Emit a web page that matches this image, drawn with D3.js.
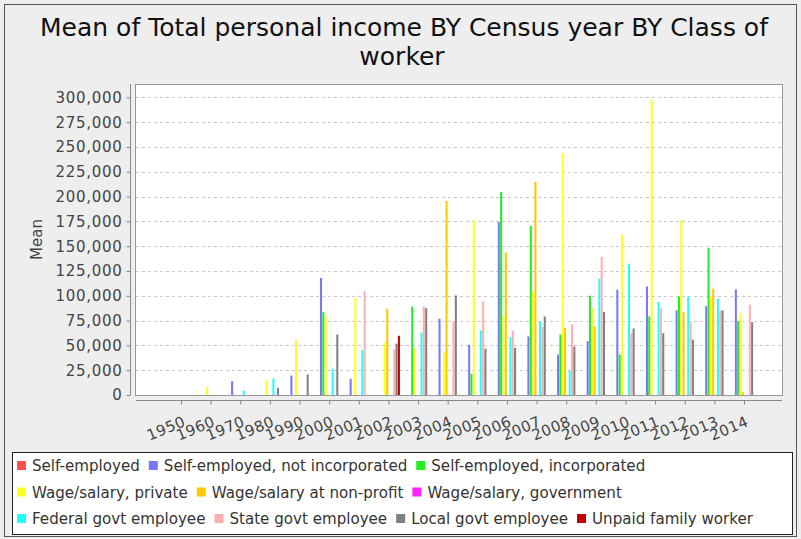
<!DOCTYPE html>
<html>
<head>
<meta charset="utf-8">
<script src="https://cdn.jsdelivr.net/npm/d3@7"></script>
<style>
  body { margin: 0; background: #eeeeee; }
  svg { display: block; font-family: "DejaVu Sans", sans-serif; }
</style>
</head>
<body>
<script>
// categories
var years = ["1950", "1960", "1970", "1980", "1990", "2000", "2001", "2002", "2003", "2004",
             "2005", "2006", "2007", "2008", "2009", "2010", "2011", "2012", "2013", "2014"];

var seriesNames = ["Self-employed", "Self-employed, not incorporated", "Self-employed, incorporated",
                   "Wage/salary, private", "Wage/salary at non-profit", "Wage/salary, government",
                   "Federal govt employee", "State govt employee", "Local govt employee", "Unpaid family worker"];

var seriesColors = ["#ff5050", "#7878ff", "#22ee22", "#ffff22", "#ffc800", "#ff22ff",
                    "#22ffff", "#ffafaf", "#808080", "#c00000"];

// mean income per year, one array per class of worker (null = no bar)
var selfEmployed     = [null, null, null, null, null, null, null, null, null, null, null, null, null, null, null, null, null, null, null, null];
var selfNotInc       = [null, null, 14000, null, 19700, 118000, 16300, null, null, 76900, 50600, 174400, 59000, 40900, 54300, 106200, 109500, 85300, 89600, 106500];
var selfInc          = [null, null, null, null, null, 83600, null, null, 89300, null, 21400, 204700, 170400, 61000, 100100, 40900, 79200, 99400, 148200, 74500];
var wagePrivate      = [null, 8000, null, 15300, 55700, 79600, 98100, 52700, 47300, 43200, 176800, 80200, 104500, 243500, 87600, 161700, 298000, 176100, 99400, 82600];
var wageNonProfit    = [null, null, null, null, null, null, null, 87000, null, 195600, null, 143500, 214800, 67800, 69100, null, null, 83600, 107200, 2900];
var wageGovernment   = [null, null, null, null, null, null, null, null, null, null, null, null, null, null, null, null, null, null, null, null];
var federalEmployee  = [null, null, 4500, 16700, null, 26400, 45200, null, 62800, null, 65100, 58300, 73900, 24700, 117300, 132400, 93700, 99400, 97100, null];
var stateEmployee    = [null, null, null, null, null, null, 104500, 45900, 89300, 74200, 94400, 64800, 68400, 71200, 139100, 62800, 87600, 73500, 85300, 91000];
var localEmployee    = [null, null, null, 7200, 20700, 61000, null, 51700, 87600, 100400, 46600, 47600, 79200, 49000, 83600, 67100, 62400, 55700, 85300, 73500];
var unpaidFamily     = [null, null, null, null, null, null, null, 59700, null, null, null, null, null, null, null, null, null, null, null, null];

var yTicks = [0, 25000, 50000, 75000, 100000, 125000, 150000, 175000, 200000, 225000, 250000, 275000, 300000];

var seriesValues = [selfEmployed, selfNotInc, selfInc, wagePrivate, wageNonProfit, wageGovernment,
                    federalEmployee, stateEmployee, localEmployee, unpaidFamily];

var width = 801, height = 539;
var plotLeft = 135, plotRight = 782, plotTop = 84, plotBottom = 395;

var svg = d3.select("body")
        .append("svg")
        .attr("width", width)
        .attr("height", height);

// chart background and outer frame
svg.append("rect")
    .attr("x", 4.5).attr("y", 4.5)
    .attr("width", 792).attr("height", 532)
    .style("fill", "#eeeeee")
    .style("stroke", "#555");

// title
svg.append("text")
    .attr("x", 404).attr("y", 36)
    .attr("text-anchor", "middle")
    .style("font-size", "25px")
    .style("fill", "#111")
    .text("Mean of Total personal income BY Census year BY Class of");
svg.append("text")
    .attr("x", 402).attr("y", 65)
    .attr("text-anchor", "middle")
    .style("font-size", "25px")
    .style("fill", "#111")
    .text("worker");

// scales
var xscale = d3.scalePoint()
      .domain(years)
      .range([181, 744]);

var inner = d3.scaleBand()
      .domain(d3.range(seriesNames.length))
      .range([-11.5, 11.5])
      .paddingInner(0.12);

var yscale = d3.scaleLinear()
      .domain([0, 313500])
      .range([plotBottom, plotTop]);

// plot area
svg.append("rect")
    .attr("x", plotLeft + 0.5).attr("y", plotTop + 0.5)
    .attr("width", plotRight - plotLeft).attr("height", plotBottom - plotTop)
    .style("fill", "white")
    .style("stroke", "#999");

// gridlines
svg.append("g")
    .selectAll("line")
    .data(yTicks.filter(function(d) { return d > 0; }))
    .enter()
    .append("line")
    .attr("x1", plotLeft + 1).attr("x2", plotRight)
    .attr("y1", function(d) { return Math.round(yscale(d)) + 0.5; })
    .attr("y2", function(d) { return Math.round(yscale(d)) + 0.5; })
    .style("stroke", "#c8c8c8")
    .style("stroke-dasharray", "3,3");

// bars
var barData = [];
seriesValues.forEach(function(vals, s) {
    vals.forEach(function(v, i) {
        if (v !== null) barData.push({ year: years[i], series: s, value: v });
    });
});

svg.append("g")
    .selectAll("rect")
    .data(barData)
    .enter()
    .append("rect")
    .attr("x", function(d) { return xscale(d.year) + inner(d.series); })
    .attr("width", inner.bandwidth())
    .attr("y", function(d) { return yscale(d.value); })
    .attr("height", function(d) { return yscale(0) - yscale(d.value); })
    .style("fill", function(d) { return seriesColors[d.series]; });

// y axis
var yaxis = d3.axisLeft(yscale)
      .tickValues(yTicks)
      .tickSize(4)
      .tickSizeOuter(0)
      .tickPadding(4)
      .tickFormat(d3.format(","));

var gy = svg.append("g")
    .attr("transform", "translate(130.5,0)")
    .call(yaxis);
gy.select(".domain").style("stroke", "#888").attr("d", "M0," + plotTop + "V" + plotBottom);
gy.selectAll(".tick line").style("stroke", "#888");
gy.selectAll("text")
    .style("font-size", "15px")
    .style("letter-spacing", "0.7px")
    .style("fill", "#444")
    .style("font-family", "DejaVu Sans");

svg.append("text")
    .attr("transform", "translate(42," + ((plotTop + plotBottom) / 2) + ") rotate(-90)")
    .attr("text-anchor", "middle")
    .style("font-size", "15px")
    .style("fill", "#444")
    .text("Mean");

// x axis
var xaxis = d3.axisBottom(xscale)
      .tickSize(4)
      .tickSizeOuter(0);

var gx = svg.append("g")
    .attr("transform", "translate(0,400.5)")
    .call(xaxis);
gx.select(".domain").style("stroke", "#888").attr("d", "M" + (plotLeft + 1) + ",0H" + plotRight);
gx.selectAll(".tick line").style("stroke", "#888");
gx.selectAll("text")
    .attr("x", 0).attr("y", 0).attr("dy", "0.35em")
    .attr("transform", "translate(3,20) rotate(-22.5)")
    .style("text-anchor", "end")
    .style("font-size", "15px")
    .style("letter-spacing", "0.5px")
    .style("fill", "#444")
    .style("font-family", "DejaVu Sans");

// legend
var legend = svg.append("g");
legend.append("rect")
    .attr("x", 12.5).attr("y", 452.5)
    .attr("width", 780).attr("height", 82)
    .style("fill", "white")
    .style("stroke", "#222");

var legendRows = [[0, 1, 2], [3, 4, 5], [6, 7, 8, 9]];
legendRows.forEach(function(row, r) {
    var cx = 17;
    var cy = 466 + r * 26.5;
    row.forEach(function(s) {
        legend.append("rect")
            .attr("x", cx).attr("y", cy - 5)
            .attr("width", 9).attr("height", 9)
            .style("fill", seriesColors[s]);
        var t = legend.append("text")
            .attr("x", cx + 15).attr("y", cy + 5)
            .style("font-size", "15.1px")
            .style("fill", "#333")
            .text(seriesNames[s]);
        cx += 15 + t.node().getComputedTextLength() + 9;
    });
});
</script>
</body>
</html>
